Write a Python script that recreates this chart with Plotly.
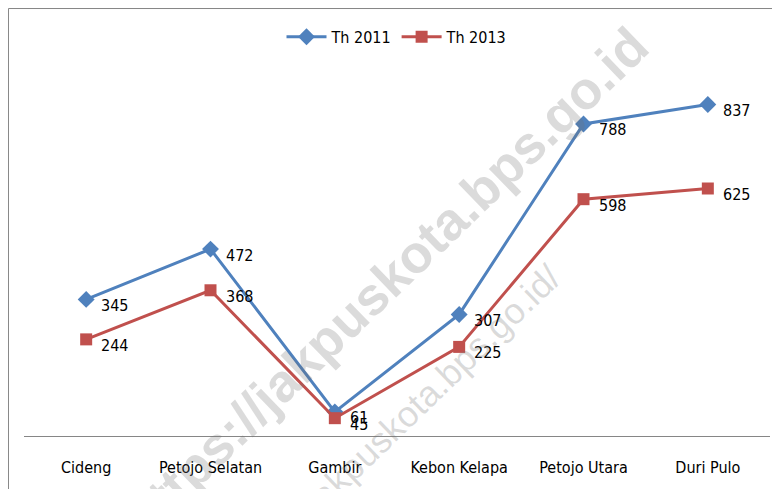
import plotly.graph_objs as go

kelurahan = ["Cideng", "Petojo Selatan", "Gambir", "Kebon Kelapa", "Petojo Utara", "Duri Pulo"]
th_2011 = [345, 472, 61, 307, 788, 837]
th_2013 = [244, 368, 45, 225, 598, 625]

font_main = "Liberation Sans Narrow, DejaVu Sans Condensed, Open Sans, Arial"
wm_color = "rgba(110,110,110,0.25)"

fig = go.Figure()
fig.add_trace(go.Scatter(
    x=kelurahan, y=th_2011, name="Th 2011",
    mode="lines+markers",
    line=dict(color="#4F81BD", width=3),
    marker=dict(symbol="diamond", size=13, color="#4F81BD"),
))
fig.add_trace(go.Scatter(
    x=kelurahan, y=th_2013, name="Th 2013",
    mode="lines+markers",
    line=dict(color="#C0504D", width=3),
    marker=dict(symbol="square", size=12, color="#C0504D"),
))

# data labels, right of each point
labels = []
for series in (th_2011, th_2013):
    for k, v in zip(kelurahan, series):
        labels.append(dict(x=k, y=v, text=str(v), showarrow=False,
                           xanchor="left", xshift=13, yshift=-6,
                           font=dict(family=font_main, size=16, color="black")))

watermark = [
    dict(text="<b>https://jakpuskota.bps.go.id</b>", x=0.485, y=0.39, xref="paper", yref="paper",
         xanchor="center", yanchor="middle", showarrow=False, textangle=-44,
         font=dict(family="Liberation Sans, Arial", size=53, color=wm_color)),
    dict(text="https://jakpuskota.bps.go.id/", x=0.496, y=0.023, xref="paper", yref="paper",
         xanchor="center", yanchor="middle", showarrow=False, textangle=-44,
         font=dict(family="Liberation Sans, Arial", size=36, color=wm_color)),
]

# page body keeps an 8px margin, so the figure is 8px smaller than the window
fig.update_layout(
    width=772, height=481,
    margin=dict(l=16, r=10, t=32, b=53, autoexpand=False),
    paper_bgcolor="white", plot_bgcolor="white",
    font=dict(family=font_main, size=16, color="black"),
    showlegend=True,
    legend=dict(orientation="h", x=0.5, xanchor="center", y=1.008, yanchor="middle",
                font=dict(size=16), itemwidth=40, bgcolor="rgba(0,0,0,0)"),
    xaxis=dict(showline=True, linecolor="#868686", linewidth=1, showgrid=False,
               zeroline=False, ticks="", ticklabelstandoff=17, range=[-0.5, 5.5],
               fixedrange=True),
    yaxis=dict(range=[0, 1000], visible=False, showgrid=False, zeroline=False),
    shapes=[dict(type="rect", xref="paper", yref="paper",
                 x0=-0.0208, x1=1.2, y0=-0.3, y1=1.0795,
                 line=dict(color="#868686", width=1), layer="below")],
    annotations=labels + watermark,
)

fig.write_html("out.html")
